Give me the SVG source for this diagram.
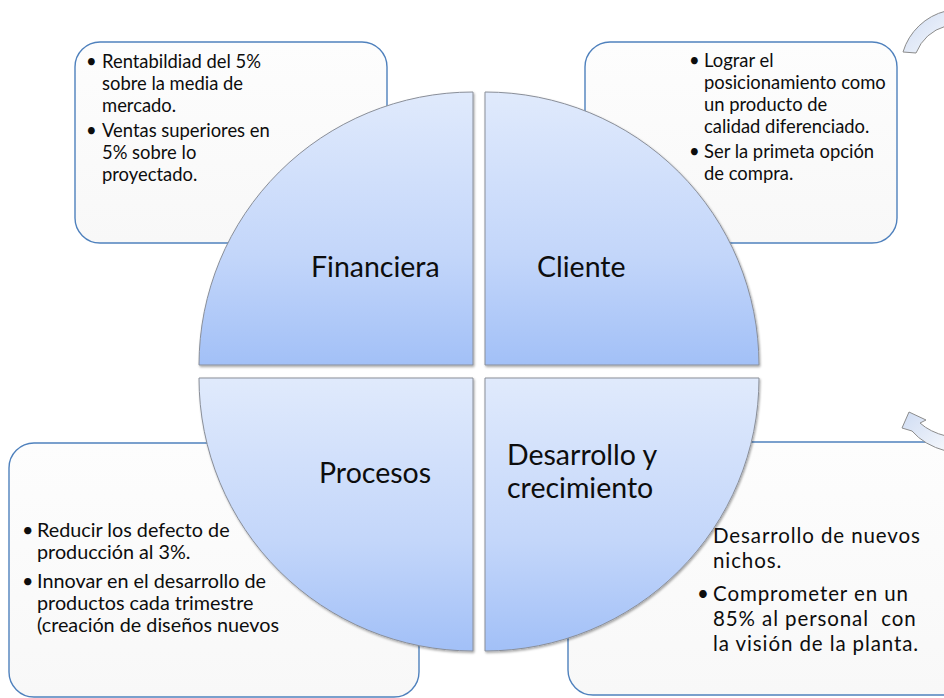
<svg xmlns="http://www.w3.org/2000/svg" width="944" height="698" viewBox="0 0 944 698">
<defs>
<style>
.box{fill:url(#boxg);stroke:#4f81bd;stroke-width:1.4}
.q{fill:url(#qg);stroke:#8a8f99;stroke-width:1;filter:url(#sh)}
.lab{font-family:Lato,"Liberation Sans",sans-serif;font-size:28.5px;fill:#0d0d0d}
.t{font-family:Lato,"Liberation Sans",sans-serif;font-size:18.4px;fill:#0d0d0d}
.t3{font-family:Lato,"Liberation Sans",sans-serif;font-size:19.8px;fill:#0d0d0d}
.t2{font-family:Lato,"Liberation Sans",sans-serif;font-size:20.5px;letter-spacing:0.9px;fill:#0d0d0d;white-space:pre}
.arr{fill:url(#ag);stroke:#8c8c8c;stroke-width:1}
</style>
<linearGradient id="qg" x1="0" y1="0" x2="0" y2="1">
<stop offset="0" stop-color="#e0eafc"/>
<stop offset="0.6" stop-color="#c3d6fa"/>
<stop offset="1" stop-color="#a2c0f7"/>
</linearGradient>
<linearGradient id="boxg" x1="0" y1="0" x2="0" y2="1">
<stop offset="0" stop-color="#fdfdfd"/>
<stop offset="1" stop-color="#f8f8f8"/>
</linearGradient>
<linearGradient id="ag" x1="0" y1="0" x2="1" y2="1">
<stop offset="0" stop-color="#cfdcf3"/>
<stop offset="1" stop-color="#f4f7fc"/>
</linearGradient>
<filter id="sh" x="-5%" y="-5%" width="110%" height="110%">
<feDropShadow dx="1" dy="1.5" stdDeviation="1.2" flood-color="#000" flood-opacity="0.35"/>
</filter>
</defs>
<rect width="944" height="698" fill="#ffffff"/>

<g id="box-financiera">
<rect class="box" x="75" y="42" width="312" height="201" rx="25"/>
<text class="t" x="86" y="68">•</text>
<text class="t"><tspan x="102" y="68">Rentabildiad del 5%</tspan><tspan x="102" y="90">sobre la media de</tspan><tspan x="102" y="112">mercado.</tspan></text>
<text class="t" x="86" y="137">•</text>
<text class="t"><tspan x="102" y="137">Ventas superiores en</tspan><tspan x="102" y="159">5% sobre lo</tspan><tspan x="102" y="181">proyectado.</tspan></text>
</g>

<g id="box-cliente">
<rect class="box" x="585" y="42" width="312" height="201" rx="25"/>
<text class="t" x="689" y="67">•</text>
<text class="t"><tspan x="704" y="67">Lograr el</tspan><tspan x="704" y="89">posicionamiento como</tspan><tspan x="704" y="111">un producto de</tspan><tspan x="704" y="133">calidad diferenciado.</tspan></text>
<text class="t" x="689" y="158">•</text>
<text class="t"><tspan x="704" y="158">Ser la primeta opción</tspan><tspan x="704" y="180">de compra.</tspan></text>
</g>

<g id="box-procesos">
<rect class="box" x="9" y="443" width="410" height="254" rx="25"/>
<text class="t3" x="22" y="537">•</text>
<text class="t3"><tspan x="37" y="537">Reducir los defecto de</tspan><tspan x="37" y="559">producción al 3%.</tspan></text>
<text class="t3" x="22" y="588">•</text>
<text class="t3"><tspan x="37" y="588">Innovar en el desarrollo de</tspan><tspan x="37" y="610">productos cada trimestre</tspan><tspan x="37" y="632">(creación de diseños nuevos</tspan></text>
</g>

<g id="box-desarrollo">
<rect class="box" x="568" y="442" width="420" height="253" rx="25"/>
<text class="t2"><tspan x="713" y="543">Desarrollo de nuevos</tspan><tspan x="713" y="568">nichos.</tspan></text>
<text class="t2" x="697" y="601">•</text>
<text class="t2"><tspan x="713" y="601">Comprometer en un</tspan><tspan x="713" y="626">85% al personal  con</tspan><tspan x="713" y="651">la visión de la planta.</tspan></text>
</g>

<g id="q-financiera">
<path class="q" d="M473 365 L199 365 A274 273 0 0 1 473 92 Z"/>
<text class="lab" x="311" y="277">Financiera</text>
</g>
<g id="q-cliente">
<path class="q" d="M485 365 L485 92 A274 273 0 0 1 759 365 Z"/>
<text class="lab" x="537" y="277">Cliente</text>
</g>
<g id="q-procesos">
<path class="q" d="M473 378 L473 651 A274 273 0 0 1 199 378 Z"/>
<text class="lab" x="319" y="483">Procesos</text>
</g>
<g id="q-desarrollo">
<path class="q" d="M485 378 L759 378 A274 273 0 0 1 485 651 Z"/>
<text class="lab"><tspan x="507" y="465">Desarrollo y</tspan><tspan x="507" y="498">crecimiento</tspan></text>
</g>

<g id="connectors">
<path class="arr" d="M903 52 A60 60 0 0 1 946 11 L946 26 A47 47 0 0 0 916 53 Z"/>
<path class="arr" d="M909 412 L926 420 L920 423 Q930 432 946 436 L946 451 Q924 445 912 431 L902 428 Z"/>
</g>
</svg>
